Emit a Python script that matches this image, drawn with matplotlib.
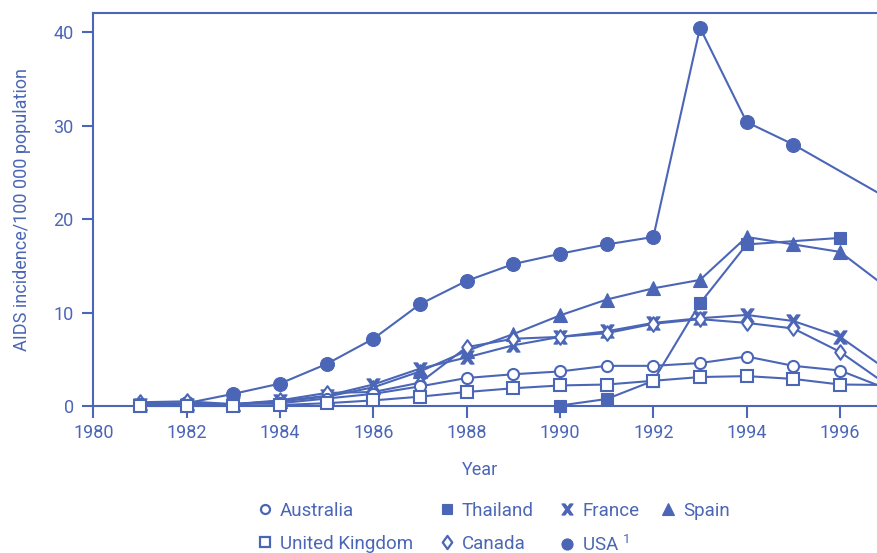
import numpy as np
import matplotlib
matplotlib.use("Agg")
import matplotlib.pyplot as plt
from matplotlib.path import Path
from matplotlib.lines import Line2D

BLUE = "#4b66b6"
FONT = "Roboto"

plt.rcParams["font.family"] = [FONT, "DejaVu Sans"]
plt.rcParams["mathtext.fontset"] = "custom"
plt.rcParams["mathtext.rm"] = FONT
plt.rcParams["mathtext.default"] = "regular"

# AIDS incidence per 100 000 population, by country and year
years_australia = [1981, 1982, 1983, 1984, 1985, 1986, 1987, 1988, 1989, 1990, 1991, 1992, 1993, 1994, 1995, 1996, 1997]
australia = [0.2, 0.1, 0.2, 0.3, 0.8, 1.3, 2.1, 3.0, 3.4, 3.7, 4.3, 4.3, 4.6, 5.3, 4.3, 3.8, 1.85]

years_uk = [1981, 1982, 1983, 1984, 1985, 1986, 1987, 1988, 1989, 1990, 1991, 1992, 1993, 1994, 1995, 1996, 1997]
uk = [0.0, 0.0, 0.0, 0.1, 0.3, 0.6, 1.0, 1.5, 1.9, 2.2, 2.3, 2.7, 3.1, 3.2, 2.9, 2.3, 2.25]

years_thailand = [1990, 1991, 1992, 1993, 1994, 1996]
thailand = [0.05, 0.75, 2.7, 11.0, 17.3, 18.0]

years_canada = [1981, 1982, 1983, 1984, 1985, 1986, 1987, 1988, 1989, 1990, 1991, 1992, 1993, 1994, 1995, 1996, 1997]
canada = [0.4, 0.5, 0.2, 0.6, 1.4, 1.5, 2.5, 6.3, 7.2, 7.4, 7.8, 8.8, 9.3, 8.9, 8.3, 5.8, 2.3]

years_france = [1981, 1982, 1983, 1984, 1985, 1986, 1987, 1988, 1989, 1990, 1991, 1992, 1993, 1994, 1995, 1996, 1997]
france = [0.1, 0.1, 0.2, 0.5, 1.1, 2.3, 4.0, 5.2, 6.5, 7.4, 8.0, 8.9, 9.4, 9.75, 9.1, 7.4, 3.9]

years_spain = [1981, 1982, 1983, 1984, 1985, 1986, 1987, 1988, 1989, 1990, 1991, 1992, 1993, 1994, 1995, 1996, 1997]
spain = [0.3, 0.3, 0.2, 0.5, 1.0, 2.0, 3.7, 5.9, 7.7, 9.7, 11.4, 12.6, 13.5, 18.1, 17.3, 16.5, 12.7]

years_usa = [1982, 1983, 1984, 1985, 1986, 1987, 1988, 1989, 1990, 1991, 1992, 1993, 1994, 1995, 1997]
usa = [0.3, 1.3, 2.4, 4.5, 7.2, 10.9, 13.4, 15.2, 16.3, 17.3, 18.1, 40.5, 30.4, 28.0, 22.3]

x_ticks = [1980, 1982, 1984, 1986, 1988, 1990, 1992, 1994, 1996]
y_ticks = [0, 10, 20, 30, 40]

# bold "X" marker with flat ends
X_MARK = Path([(-1, 1), (-0.45, 1), (0, 0.4), (0.45, 1), (1, 1), (0.3, 0),
               (1, -1), (0.45, -1), (0, -0.4), (-0.45, -1), (-1, -1), (-0.3, 0),
               (-1, 1)], closed=True)
# slightly narrow diamond
DIAMOND = Path([(0, 1), (0.72, 0), (0, -1), (-0.72, 0), (0, 1)], closed=True)

W, H, DPI = 877, 553, 100
fig = plt.figure(figsize=(W / DPI, H / DPI), dpi=DPI)

x0, x1 = 1980, 1997.2
px_per_year = 46.67
left_px, bottom_px, top_px = 93.3, 406, 13.3
ax_w_px = (x1 - x0) * px_per_year
ax = fig.add_axes([left_px / W, (H - bottom_px) / H,
                   ax_w_px / W, (bottom_px - top_px) / H])
ax.set_xlim(x0, x1)
ax.set_ylim(0, 42.05)

LW = 1.5
series = [
    # years, values, marker, size, face, zorder
    (years_usa, usa, "o", 10, BLUE, 3),
    (years_spain, spain, "^", 9.5, BLUE, 3),
    (years_thailand, thailand, "s", 8.5, BLUE, 3),
    (years_france, france, X_MARK, 9.5, BLUE, 4),
    (years_canada, canada, DIAMOND, 10.5, "white", 5),
    (years_australia, australia, "o", 8, "white", 6),
    (years_uk, uk, "s", 8, "white", 7),
]
for yrs, vals, mk, ms, fc, z in series:
    ax.plot(yrs, vals, color=BLUE, lw=LW, zorder=2, clip_on=False)
for yrs, vals, mk, ms, fc, z in series:
    ax.plot(yrs, vals, linestyle="none", marker=mk, markersize=ms,
            markerfacecolor=fc, markeredgecolor=BLUE,
            markeredgewidth=1.5 if fc == "white" else 0.8,
            zorder=z, clip_on=False)

ax.set_xticks(x_ticks)
ax.set_yticks(y_ticks)
ax.tick_params(axis="both", colors=BLUE, labelsize=13, width=1.5, direction="out")
ax.tick_params(axis="x", length=8.6, pad=4)
ax.tick_params(axis="y", length=8, pad=6)

for side in ["left", "bottom", "top"]:
    ax.spines[side].set_color(BLUE)
    ax.spines[side].set_linewidth(1.5)
ax.spines["right"].set_visible(False)

ax.set_ylabel("AIDS incidence/100 000 population", color=BLUE, fontsize=13)
ax.yaxis.set_label_coords(-62 / ax_w_px, 0.5)
fig.text(480 / W, 1 - 470 / H, "Year", color=BLUE, fontsize=13, ha="center", va="center")


def handle(mk, ms, fc):
    return Line2D([], [], linestyle="none", marker=mk, markersize=ms,
                  markerfacecolor=fc, markeredgecolor=BLUE,
                  markeredgewidth=1.6 if fc == "white" else 0.8)


# legend laid out as four columns
LEG_FS = 13.5
handle_len = 0.8
legend_columns = [
    (265, [(handle("o", 6.5, "white"), "Australia"),
           (handle("s", 7, "white"), "United Kingdom")]),
    (447, [(handle("s", 7.5, BLUE), "Thailand"),
           (handle(DIAMOND, 9.5, "white"), "Canada")]),
    (567, [(handle(X_MARK, 8, BLUE), "France"),
           (handle("o", 8, BLUE), "USA $^{1}$")]),
    (668, [(handle("^", 8, BLUE), "Spain")]),
]
half_handle_px = handle_len * LEG_FS * DPI / 72 / 2
for cx, entries in legend_columns:
    hs = [e[0] for e in entries]
    ls = [e[1] for e in entries]
    leg = fig.legend(hs, ls, frameon=False, fontsize=LEG_FS, loc="upper left",
                     bbox_to_anchor=((cx - half_handle_px) / W, 1 - 502 / H),
                     borderpad=0, borderaxespad=0, handlelength=handle_len,
                     handletextpad=0.4, labelspacing=0.78)
    for t in leg.get_texts():
        t.set_color(BLUE)

fig.savefig("out.png", dpi=DPI)
